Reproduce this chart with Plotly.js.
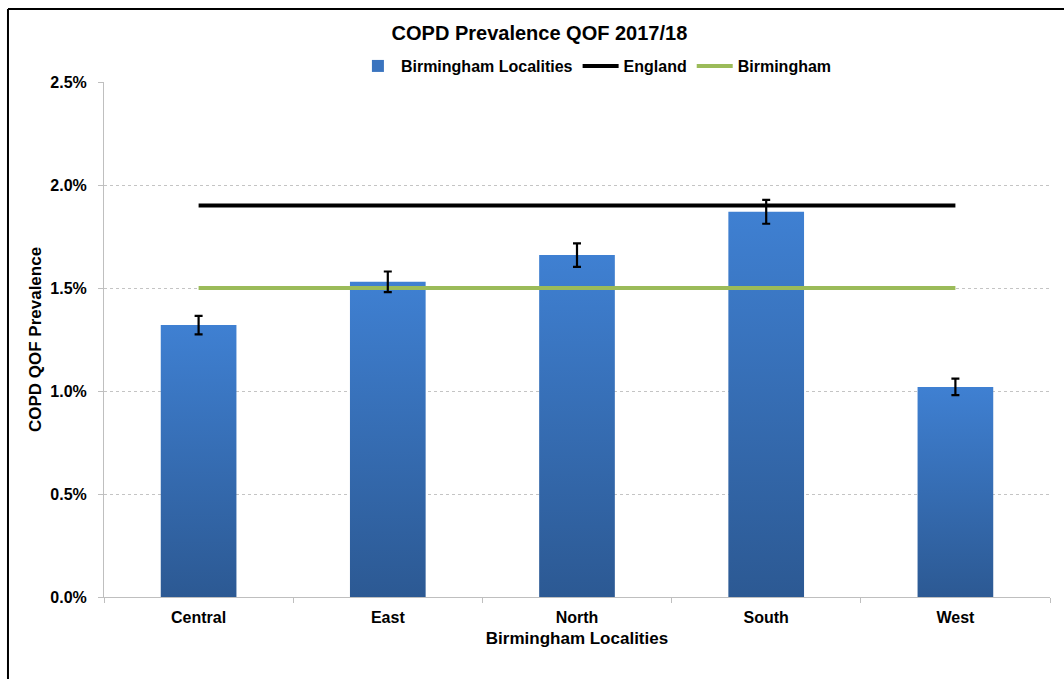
<!DOCTYPE html>
<html>
<head>
<meta charset="utf-8">
<script src="https://cdn.plot.ly/plotly-3.0.1.min.js"></script>
<style>
  html, body { margin: 0; padding: 0; background: #ffffff; }
  #chart { width: 1064px; height: 679px; }
</style>
</head>
<body>
<div id="chart"></div>
<script>
// ---- Data (values in %) ----
const localities = ["Central", "East", "North", "South", "West"];
const prevalence = [1.32, 1.53, 1.66, 1.87, 1.02];
const ciError = [0.045, 0.05, 0.057, 0.058, 0.04];
const englandValue = 1.90;
const birminghamValue = 1.50;
const yTickValues = [0, 0.5, 1.0, 1.5, 2.0, 2.5];

const englandLine = localities.map(() => englandValue);
const birminghamLine = localities.map(() => birminghamValue);

const fontFamily = "Liberation Sans, Arial, sans-serif";

const traces = [
  {
    type: "bar",
    name: "Birmingham Localities",
    x: localities,
    y: prevalence,
    width: 0.4,
    marker: { color: "#3a74bf", line: { width: 0 } },
    hoverinfo: "x+y"
  },
  {
    type: "scatter",
    mode: "lines",
    name: "England",
    x: localities,
    y: englandLine,
    line: { color: "#000000", width: 4 }
  },
  {
    type: "scatter",
    mode: "lines",
    name: "Birmingham",
    x: localities,
    y: birminghamLine,
    line: { color: "#9bbb59", width: 4 }
  },
  {
    type: "scatter",
    mode: "markers",
    name: "CI",
    showlegend: false,
    x: localities,
    y: prevalence,
    marker: { size: 0.1, color: "rgba(0,0,0,0)" },
    error_y: { type: "data", array: ciError, visible: true, color: "#000000", thickness: 2.2, width: 4 }
  }
];

const layout = {
  width: 1064,
  height: 679,
  paper_bgcolor: "#ffffff",
  plot_bgcolor: "#ffffff",
  margin: { l: 104, r: 14, t: 82, b: 82 },
  font: { family: fontFamily, color: "#000000", size: 16 },
  title: {
    text: "<b>COPD Prevalence QOF 2017/18</b>",
    x: 0.507, xanchor: "center",
    y: 0.951, yanchor: "middle",
    font: { family: fontFamily, size: 20, color: "#000000" }
  },
  showlegend: true,
  legend: {
    orientation: "h",
    x: 0.52, xanchor: "center",
    y: 1.031, yanchor: "middle",
    font: { family: fontFamily, size: 16, color: "#000000", weight: "bold" },
    bgcolor: "rgba(0,0,0,0)",
    itemwidth: 36,
    traceorder: "normal"
  },
  bargap: 0.6,
  xaxis: {
    type: "category",
    tickson: "boundaries",
    ticks: "outside",
    ticklen: 5,
    tickcolor: "#bfbfbf",
    ticklabelstandoff: 6,
    showgrid: false,
    showline: true,
    linecolor: "#bfbfbf",
    linewidth: 1,
    tickfont: { family: fontFamily, size: 16, color: "#000000", weight: "bold" },
    title: {
      text: "<b>Birmingham Localities</b>",
      font: { family: fontFamily, size: 17, color: "#000000" },
      standoff: 6
    },
    zeroline: false
  },
  yaxis: {
    range: [0, 2.5],
    tickvals: yTickValues,
    ticktext: yTickValues.map(v => v.toFixed(1) + "%"),
    ticks: "outside",
    ticklen: 5,
    tickcolor: "#bfbfbf",
    ticklabelstandoff: 8,
    showline: true,
    linecolor: "#bfbfbf",
    linewidth: 1,
    showgrid: true,
    gridcolor: "#c4c4c4",
    griddash: "dot",
    gridwidth: 1,
    zeroline: false,
    tickfont: { family: fontFamily, size: 16, color: "#000000", weight: "bold" },
    title: {
      text: "<b>COPD QOF Prevalence</b>",
      font: { family: fontFamily, size: 17, color: "#000000" },
      standoff: 4
    }
  },
  shapes: [
    { type: "line", xref: "paper", yref: "paper", x0: -0.1015, x1: 1.05, y0: 1.1417, y1: 1.1417,
      line: { color: "#000000", width: 2 } },
    { type: "line", xref: "paper", yref: "paper", x0: -0.1015, x1: -0.1015, y0: 1.1417, y1: -0.3,
      line: { color: "#000000", width: 2 } }
  ]
};

Plotly.newPlot("chart", traces, layout, { displayModeBar: false, staticPlot: true }).then(function (gd) {
  // Apply vertical gradient to bars (lighter top, darker bottom)
  const svg = gd.querySelector("svg.main-svg");
  const ns = "http://www.w3.org/2000/svg";
  let defs = svg.querySelector("defs");
  if (!defs) { defs = document.createElementNS(ns, "defs"); svg.insertBefore(defs, svg.firstChild); }
  const grad = document.createElementNS(ns, "linearGradient");
  grad.setAttribute("id", "barGrad");
  grad.setAttribute("x1", "0"); grad.setAttribute("y1", "0");
  grad.setAttribute("x2", "0"); grad.setAttribute("y2", "1");
  [["0%", "#3f80d2"], ["100%", "#2c5993"]].forEach(function (s) {
    const st = document.createElementNS(ns, "stop");
    st.setAttribute("offset", s[0]);
    st.setAttribute("stop-color", s[1]);
    grad.appendChild(st);
  });
  defs.appendChild(grad);
  gd.querySelectorAll(".barlayer .point path").forEach(function (p) {
    p.style.fill = "url(#barGrad)";
  });
});
</script>
</body>
</html>
